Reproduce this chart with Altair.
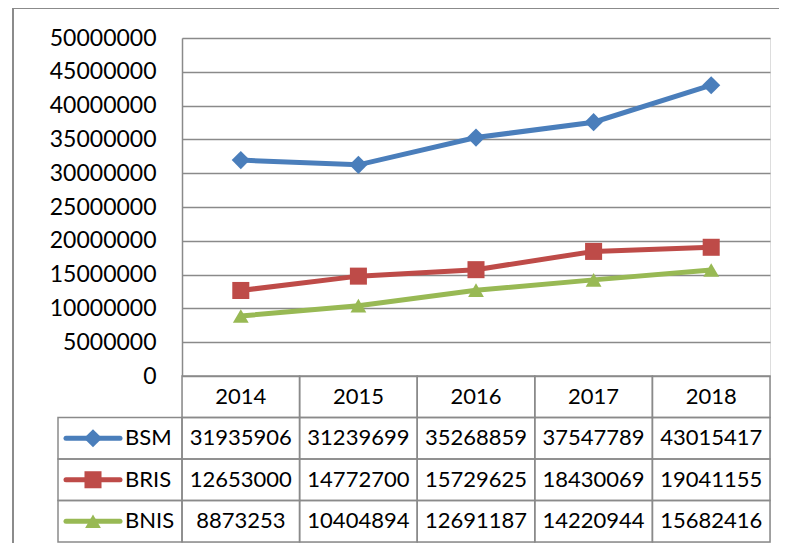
import altair as alt
import pandas as pd

years = ["2014", "2015", "2016", "2017", "2018"]
series = ["BSM", "BRIS", "BNIS"]
bsm = [31935906, 31239699, 35268859, 37547789, 43015417]
bris = [12653000, 14772700, 15729625, 18430069, 19041155]
bnis = [8873253, 10404894, 12691187, 14220944, 15682416]
colors = ["#4A7EBB", "#BE4B48", "#98B954"]
shapes = ["diamond", "square", "triangle-up"]
sizes = [330, 250, 580]
y_ticks = list(range(0, 50000001, 5000000))
rows = ["header"] + series

values = {"BSM": bsm, "BRIS": bris, "BNIS": bnis}
long = pd.DataFrame(
    [{"year": y, "series": s, "value": v}
     for s in series for y, v in zip(years, values[s])]
)

table_rows = [{"col": y, "row": "header", "label": y} for y in years]
table_rows += [{"col": y, "row": s, "label": str(v)}
               for s in series for y, v in zip(years, values[s])]
table = pd.DataFrame(table_rows)
legend_df = pd.DataFrame({"col": ["legend"] * 3, "row": series, "series": series})

W, H = 588, 504
PLOT_H = 338
GRAY = "#8a8a8a"
FONT = "Lato"

xs_point = alt.Scale(type="point", domain=years, range=[0, W], padding=0.5)
ys_val = alt.Scale(domain=[0, 50000000], range=[PLOT_H, 0])
ys_row_band = alt.Scale(type="band", domain=rows, range=[PLOT_H, H], paddingInner=0, paddingOuter=0)
ys_row_point = alt.Scale(type="point", domain=rows, range=[PLOT_H, H], padding=0.5)
color_scale = alt.Scale(domain=series, range=colors)

base = alt.Chart(long)

lines = base.mark_line(strokeWidth=5).encode(
    x=alt.X("year:O", scale=xs_point, axis=None),
    y=alt.Y("value:Q", scale=ys_val,
            axis=alt.Axis(values=y_ticks, format="d", title=None, ticks=False,
                          labelPadding=26, labelFont=FONT, labelFontSize=23,
                          labelColor="#000000", domainColor=GRAY, domainWidth=1.5,
                          grid=True, gridColor=GRAY, gridWidth=1.5)),
    color=alt.Color("series:N", scale=color_scale, legend=None),
    detail="series:N",
)

points = base.mark_point(filled=True, opacity=1).encode(
    x=alt.X("year:O", scale=xs_point, axis=None),
    y=alt.Y("value:Q", scale=ys_val, axis=None),
    color=alt.Color("series:N", scale=color_scale, legend=None),
    shape=alt.Shape("series:N", scale=alt.Scale(domain=series, range=shapes), legend=None),
    size=alt.Size("series:N", scale=alt.Scale(domain=series, range=sizes), legend=None),
)

cells = alt.Chart(table).mark_rect(fill="transparent", stroke=GRAY, strokeWidth=1.5).encode(
    x=alt.X("col:O", scale=alt.Scale(type="band", domain=years, range=[0, W],
                                     paddingInner=0, paddingOuter=0), axis=None),
    y=alt.Y("row:O", scale=ys_row_band, axis=None),
)

legend_cells = alt.Chart(legend_df).mark_rect(fill="transparent", stroke=GRAY, strokeWidth=1.5).encode(
    x=alt.X("col:O", scale=alt.Scale(type="band", domain=["legend"], range=[-124, 0],
                                     paddingInner=0, paddingOuter=0), axis=None),
    y=alt.Y("row:O", scale=ys_row_band, axis=None),
)

cell_text = alt.Chart(table).mark_text(font=FONT, fontSize=22, color="#000000", baseline="middle").encode(
    x=alt.X("col:O", scale=xs_point, axis=None),
    y=alt.Y("row:O", scale=ys_row_point, axis=None),
    text="label:N",
)

leg_line = alt.Chart(legend_df).mark_rule(strokeWidth=5, strokeCap="round").encode(
    x=alt.value(-116), x2=alt.value(-62),
    y=alt.Y("row:O", scale=ys_row_point, axis=None),
    color=alt.Color("series:N", scale=color_scale, legend=None),
)

leg_mark = alt.Chart(legend_df).mark_point(filled=True, opacity=1).encode(
    x=alt.value(-89),
    y=alt.Y("row:O", scale=ys_row_point, axis=None),
    color=alt.Color("series:N", scale=color_scale, legend=None),
    shape=alt.Shape("series:N", scale=alt.Scale(domain=series, range=shapes), legend=None),
    size=alt.Size("series:N", scale=alt.Scale(domain=series, range=sizes), legend=None),
)

leg_text = alt.Chart(legend_df).mark_text(font=FONT, fontSize=22, color="#000000",
                                          align="left", baseline="middle").encode(
    x=alt.value(-57),
    y=alt.Y("row:O", scale=ys_row_point, axis=None),
    text="series:N",
)

frame_left = alt.Chart(legend_df).mark_rule(color=GRAY, strokeWidth=1.5).encode(
    x=alt.value(-169), y=alt.value(-30), y2=alt.value(H + 20),
)
frame_top = alt.Chart(legend_df).mark_rule(color=GRAY, strokeWidth=1.5).encode(
    x=alt.value(-169), x2=alt.value(W + 20), y=alt.value(-30),
)

chart = alt.layer(
    frame_left, frame_top, cells, legend_cells, lines, points,
    cell_text, leg_line, leg_mark, leg_text,
).resolve_scale(
    x="independent", y="independent", color="shared", shape="shared", size="shared"
).properties(
    width=W, height=H,
    autosize=alt.AutoSizeParams(type="none"),
    padding={"left": 174, "top": 30, "right": 9, "bottom": 1},
).configure_view(stroke=None).configure(background="white")

chart.save("out.html", embed_options={"renderer": "svg", "actions": False})
